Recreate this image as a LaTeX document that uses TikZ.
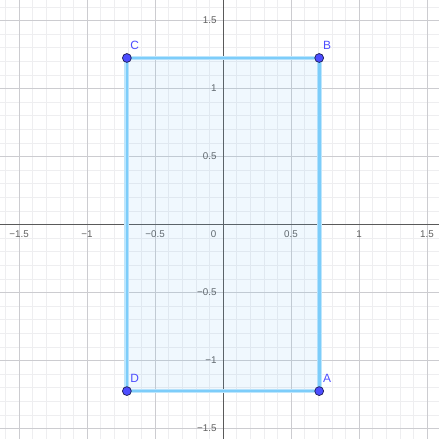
\documentclass[tikz,border=0pt]{standalone}
\usepackage{fontspec}
\setmainfont{Liberation Sans}
\usepackage{tikz}
\definecolor{axisgray}{RGB}{90,90,90}
\definecolor{majorgrid}{RGB}{204,204,208}
\definecolor{minorgrid}{RGB}{238,238,240}
\definecolor{numgray}{RGB}{95,95,95}
\definecolor{edgeblue}{RGB}{125,205,250}
\definecolor{edgeglow}{RGB}{190,230,252}
\definecolor{faceblue}{RGB}{105,185,245}
\definecolor{ptblue}{RGB}{77,77,255}
\definecolor{ptrim}{RGB}{30,30,90}
\tikzset{
  minorline/.style={
    draw=minorgrid,
    line width=0.5pt
  },
  majorline/.style={
    draw=majorgrid,
    line width=0.8pt
  },
  axisline/.style={
    draw=axisgray,
    line width=0.8pt
  },
  xnum/.style={
    anchor=north,
    text=numgray,
    inner sep=0.5pt,
    yshift=-4.2pt,
    font=\fontsize{8.2}{10}\selectfont
  },
  ynum/.style={
    anchor=east,
    text=numgray,
    inner sep=0.5pt,
    xshift=-4.8pt,
    font=\fontsize{8.2}{10}\selectfont
  },
  rectglow/.style={
    draw=edgeglow,
    line width=4pt
  },
  rectedge/.style={
    draw=edgeblue,
    line width=2.2pt,
    fill=faceblue,
    fill opacity=0.1
  },
  vertex/.style={
    circle,
    fill=ptblue,
    draw=ptrim,
    line width=0.6pt,
    inner sep=0pt,
    minimum size=7.4pt
  },
  vertexname/.style={
    text=ptblue,
    inner sep=0pt,
    font=\fontsize{10}{12}\selectfont
  }
}
\begin{document}
\begin{tikzpicture}[x=4cm, y=4cm]
\useasboundingbox (-1.640,-1.577) rectangle (1.588,1.651);
\clip (-1.640,-1.577) rectangle (1.588,1.651);

\draw[minorline, step=0.1] (-1.7,-1.6) grid (1.6,1.7);
\draw[majorline, step=0.5] (-2,-2) grid (2,2);

\draw[axisline] (-1.7,0) -- (1.6,0);
\draw[axisline] (0,-1.6) -- (0,1.7);

\foreach \v/\t [count=\i] in {-1.5/−1.5, -1/−1, -0.5/−0.5, 0.5/0.5, 1/1, 1.5/1.5} {
  \node[xnum] (xnum\i) at (\v,0) {\t};
  \node[ynum] (ynum\i) at (0,\v) {\t};
}
\node[xnum, anchor=north east, xshift=-5pt] (orig) at (0,0) {0};

\coordinate (A) at (0.7071,-1.2247);
\coordinate (B) at (0.7071,1.2247);
\coordinate (C) at (-0.7071,1.2247);
\coordinate (D) at (-0.7071,-1.2247);

\draw[rectglow] (A) -- (B) -- (C) -- (D) -- cycle;
\draw[rectedge] (A) -- (B) -- (C) -- (D) -- cycle;

\foreach \p in {A,B,C,D} {
  \node[vertex] (pt\p) at (\p) {};
  \node[vertexname] (name\p) at ([shift={(6.6pt,10.6pt)}]\p) {\p};
}
\end{tikzpicture}
\end{document}
